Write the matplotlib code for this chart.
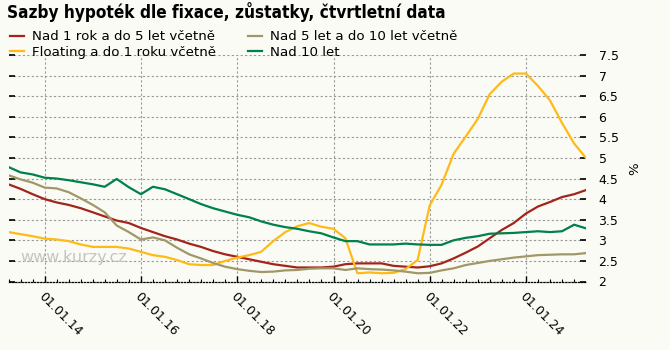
import numpy as np
import pandas as pd
import matplotlib
matplotlib.use("Agg")
import matplotlib.pyplot as plt
import matplotlib.dates as mdates
from matplotlib.ticker import MultipleLocator, FuncFormatter

# quarterly data, end of quarter
dates = pd.date_range("2013-03-31", periods=49, freq="QE")

nad_1_do_5 = [4.36, 4.25, 4.12, 4.00, 3.92, 3.86, 3.78, 3.68, 3.58, 3.48,
              3.42, 3.30, 3.20, 3.10, 3.02, 2.92, 2.84, 2.74, 2.66, 2.60,
              2.54, 2.48, 2.42, 2.38, 2.34, 2.34, 2.34, 2.36, 2.42, 2.44,
              2.44, 2.44, 2.38, 2.36, 2.34, 2.37, 2.44, 2.56, 2.70, 2.85,
              3.05, 3.25, 3.42, 3.65, 3.82, 3.93, 4.05, 4.12, 4.22]

floating_do_1 = [3.20, 3.15, 3.10, 3.04, 3.02, 2.98, 2.90, 2.84, 2.84, 2.84,
                 2.80, 2.72, 2.64, 2.60, 2.52, 2.42, 2.40, 2.40, 2.50, 2.58,
                 2.64, 2.72, 2.98, 3.20, 3.34, 3.42, 3.33, 3.28, 3.05, 2.20,
                 2.22, 2.20, 2.21, 2.30, 2.52, 3.85, 4.35, 5.10, 5.52, 5.95,
                 6.55, 6.85, 7.05, 7.05, 6.75, 6.40, 5.85, 5.35, 5.00]

nad_5_do_10 = [4.58, 4.48, 4.40, 4.28, 4.26, 4.17, 4.02, 3.86, 3.68, 3.36,
               3.20, 3.02, 3.07, 3.00, 2.82, 2.66, 2.56, 2.45, 2.36, 2.30,
               2.26, 2.23, 2.24, 2.27, 2.28, 2.31, 2.32, 2.32, 2.28, 2.32,
               2.30, 2.29, 2.27, 2.24, 2.20, 2.21, 2.27, 2.32, 2.40, 2.45,
               2.50, 2.54, 2.58, 2.61, 2.64, 2.65, 2.66, 2.66, 2.69]

nad_10 = [4.78, 4.65, 4.60, 4.52, 4.50, 4.46, 4.41, 4.36, 4.30, 4.49,
          4.29, 4.12, 4.30, 4.24, 4.12, 4.00, 3.88, 3.78, 3.70, 3.62,
          3.56, 3.46, 3.38, 3.32, 3.28, 3.22, 3.17, 3.07, 2.98, 2.98,
          2.90, 2.90, 2.90, 2.92, 2.90, 2.89, 2.89, 3.00, 3.06, 3.10,
          3.16, 3.17, 3.18, 3.20, 3.22, 3.20, 3.22, 3.38, 3.29]

series = [
    ("Nad 1 rok a do 5 let včetně", nad_1_do_5, "#a3241a"),
    ("Floating a do 1 roku včetně", floating_do_1, "#ffba18"),
    ("Nad 5 let a do 10 let včetně", nad_5_do_10, "#a09868"),
    ("Nad 10 let", nad_10, "#00804a"),
]

bg = "#fafbf5"
plt.rcParams["font.family"] = "DejaVu Sans"

fig = plt.figure(figsize=(6.7, 3.5), dpi=100, facecolor=bg)
ax = fig.add_axes([8.5 / 670, 1 - 281.5 / 350, (586 - 8.5) / 670, (281.5 - 55) / 350])
ax.set_facecolor(bg)

for label, vals, col in series:
    ax.plot(dates, vals, color=col, lw=1.6, label=label, zorder=3)

ax.set_xlim(dates[0], dates[-1])
ax.set_ylim(2, 7.5)

# axes, ticks and grid
ax.xaxis.set_major_locator(mdates.YearLocator(2))
ax.xaxis.set_minor_locator(mdates.MonthLocator(bymonth=[1, 4, 7, 10]))
ax.xaxis.set_major_formatter(mdates.DateFormatter("%d.%m.%y"))
ax.yaxis.set_major_locator(MultipleLocator(0.5))
ax.yaxis.set_major_formatter(FuncFormatter(lambda v, p: f"{v:g}"))

for s in ["top", "left", "right"]:
    ax.spines[s].set_visible(False)
ax.spines["bottom"].set_linestyle((0, (1, 1.5)))
ax.spines["bottom"].set_linewidth(0.9)

ax.tick_params(axis="y", which="major", left=True, right=True, labelleft=False,
               labelright=True, direction="in", length=4, width=1.2,
               labelsize=9, pad=9, colors="black")
ax.tick_params(axis="x", which="major", direction="in", length=4, width=1,
               labelsize=9, pad=6)
ax.tick_params(axis="x", which="minor", direction="in", length=2, width=0.8)
for lab in ax.get_xticklabels():
    lab.set_rotation(-45)
    lab.set_ha("left")
    lab.set_va("top")
    lab.set_rotation_mode("anchor")

ax.grid(True, which="major", color="#999999", linestyle=(0, (2, 2)), lw=0.8, zorder=1)
ax.yaxis.set_label_position("right")
ax.set_ylabel("%", fontsize=9.5, labelpad=7)

ax.text(0.02, 0.086, "www.kurzy.cz", transform=ax.transAxes, fontsize=11.5,
        color="#c4c4c4", zorder=2)

fig.text(7 / 670, 1 - 12 / 350, "Sazby hypoték dle fixace, zůstatky, čtvrtletní data",
         fontsize=12.3, fontweight="bold", fontstretch="condensed", va="center", ha="left")

ax.legend(loc="upper left", bbox_to_anchor=(7 / 670, 1 - 27.5 / 350),
          bbox_transform=fig.transFigure, ncol=2, frameon=False, fontsize=9.6,
          handlelength=1.1, handletextpad=0.6, columnspacing=2.35, labelspacing=0.2,
          borderaxespad=0, borderpad=0.2)

fig.savefig("out.png", dpi=100, facecolor=bg)
